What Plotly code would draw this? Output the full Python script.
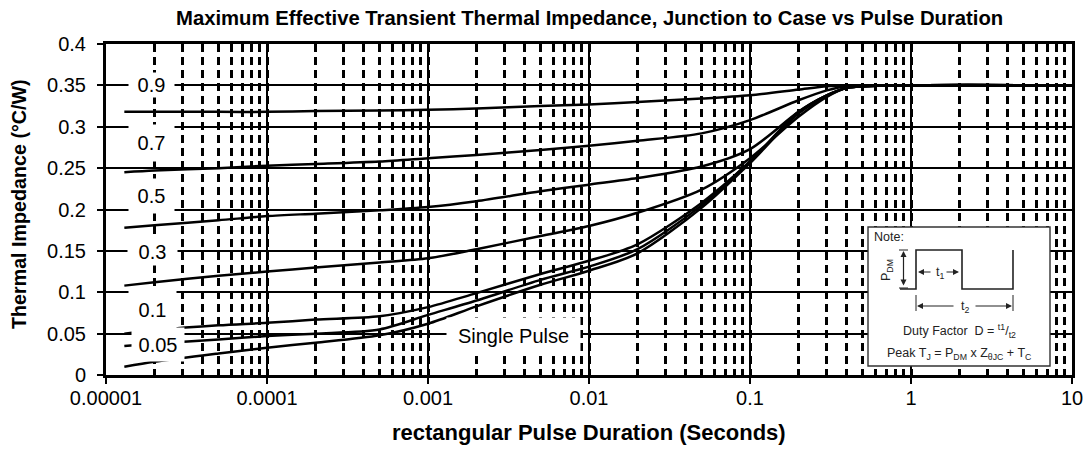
import plotly.graph_objects as go

# ---------------- data ----------------
duration = [1.3e-5, 2e-5, 5e-5, 1e-4, 2e-4, 5e-4, 1e-3, 2e-3, 5e-3, 1e-2,
            2e-2, 5e-2, 1e-1, 2e-1, 3e-1, 4e-1, 1, 10]
z_d09 = [0.318, 0.318, 0.318, 0.318, 0.319, 0.3195, 0.3205, 0.322, 0.325, 0.327,
         0.330, 0.334, 0.338, 0.345, 0.349, 0.350, 0.350, 0.350]
z_d07 = [0.245, 0.247, 0.250, 0.253, 0.255, 0.258, 0.262, 0.266, 0.272, 0.277,
         0.283, 0.292, 0.308, 0.332, 0.344, 0.349, 0.350, 0.350]
z_d05 = [0.178, 0.181, 0.187, 0.192, 0.195, 0.199, 0.203, 0.210, 0.222, 0.230,
         0.238, 0.252, 0.273, 0.318, 0.338, 0.347, 0.350, 0.350]
z_d03 = [0.108, 0.112, 0.120, 0.125, 0.130, 0.136, 0.141, 0.152, 0.168, 0.180,
         0.196, 0.224, 0.262, 0.312, 0.336, 0.347, 0.350, 0.350]
z_d01 = [0.050, 0.054, 0.060, 0.063, 0.067, 0.071, 0.082, 0.099, 0.122, 0.138,
         0.158, 0.208, 0.258, 0.318, 0.338, 0.347, 0.350, 0.350]
z_d005 = [0.035, 0.038, 0.043, 0.047, 0.050, 0.055, 0.0726, 0.090, 0.115, 0.131,
          0.152, 0.205, 0.258, 0.317, 0.338, 0.347, 0.350, 0.350]
z_single = [0.010, 0.016, 0.026, 0.033, 0.039, 0.048, 0.062, 0.083, 0.109, 0.126,
            0.147, 0.202, 0.256, 0.316, 0.337, 0.347, 0.350, 0.350]

series = [z_d09, z_d07, z_d05, z_d03, z_d01, z_d005, z_single]

x_tickvals = [1e-5, 1e-4, 1e-3, 1e-2, 1e-1, 1, 10]
x_ticktext = ["0.00001", "0.0001", "0.001", "0.01", "0.1", "1", "10"]
y_tickvals = [0, 0.05, 0.1, 0.15, 0.2, 0.25, 0.3, 0.35, 0.4]
y_ticktext = ["0", "0.05", "0.1", "0.15", "0.2", "0.25", "0.3", "0.35", "0.4"]

# curve labels: (text, log10 x, y, box width, box height)
curve_labels = [
    ("0.9", -4.72, 0.350, 45, 24),
    ("0.7", -4.72, 0.2806, 45, 36),
    ("0.5", -4.72, 0.2165, 45, 34),
    ("0.3", -4.71, 0.1488, 49, 26),
    ("0.1", -4.71, 0.0786, 47, 37),
    ("0.05", -4.68, 0.0365, 52, 33),
    ("Single Pulse", -2.472, 0.0472, 133, 35),
]

FONT = "Arial, Liberation Sans, sans-serif"
W, H = 1086, 449
L, R, T, B = 106, 14, 44, 74
PW, PH = W - L - R, H - T - B


def px(X):
    return (X - L) / PW


def py(Y):
    return (H - B - Y) / PH


fig = go.Figure()
for vals in series:
    fig.add_trace(go.Scatter(
        x=duration, y=vals, mode="lines",
        line=dict(color="black", width=2.5, shape="spline", smoothing=0.8),
        showlegend=False, hoverinfo="skip"))

annotations = []
for txt, lx, ly, bw, bh in curve_labels:
    annotations.append(dict(
        x=lx, y=ly, xref="x", yref="y", text=txt, showarrow=False,
        font=dict(family=FONT, size=20, color="black"),
        bgcolor="white", width=bw, height=bh, borderpad=0, align="center"))

# ---- titles ----
annotations += [
    dict(x=px(589), y=py(18), xref="paper", yref="paper", xanchor="center", yanchor="middle",
         text="<b>Maximum Effective Transient Thermal Impedance, Junction to Case vs Pulse Duration</b>",
         showarrow=False, font=dict(family=FONT, size=20.3, color="black")),
    dict(x=px(589), y=py(432), xref="paper", yref="paper", xanchor="center", yanchor="middle",
         text="<b>rectangular Pulse Duration (Seconds)</b>",
         showarrow=False, font=dict(family=FONT, size=22, color="black")),
    dict(x=px(19), y=py(204), xref="paper", yref="paper", xanchor="center", yanchor="middle",
         text="<b>Thermal Impedance (°C/W)</b>", textangle=-90,
         showarrow=False, font=dict(family=FONT, size=19.7, color="black")),
]

# ---- note box ----
shapes = []
shapes.append(dict(type="rect", xref="paper", yref="paper",
                   x0=px(868), x1=px(1050), y0=py(366), y1=py(227),
                   line=dict(color="#333333", width=1.4), fillcolor="white", layer="above"))
wave = [(900, 289), (916, 289), (916, 250), (962, 250), (962, 289), (1013, 289), (1013, 250)]
path = "M " + " L ".join(f"{px(a):.5f},{py(b):.5f}" for a, b in wave)
shapes.append(dict(type="path", xref="paper", yref="paper", path=path,
                   line=dict(color="#222222", width=1.6), layer="above"))
for yy in (250, 288):
    shapes.append(dict(type="line", xref="paper", yref="paper",
                       x0=px(899), x1=px(908), y0=py(yy), y1=py(yy),
                       line=dict(color="#222222", width=1), layer="above"))
for xx in (916, 1013):
    shapes.append(dict(type="line", xref="paper", yref="paper",
                       x0=px(xx), x1=px(xx), y0=py(295), y1=py(311),
                       line=dict(color="#222222", width=1), layer="above"))

note_font = dict(family=FONT, size=12.5, color="#222222")
arrow_common = dict(xref="paper", yref="paper", axref="pixel", ayref="pixel", text="",
                    showarrow=True, arrowhead=2, arrowsize=1, arrowwidth=1.2,
                    arrowcolor="#222222")
annotations += [
    dict(x=px(872), y=py(237), xref="paper", yref="paper", text="Note:",
         showarrow=False, xanchor="left", yanchor="middle", font=note_font),
    dict(x=px(887), y=py(270), xref="paper", yref="paper", text="P<sub>DM</sub>",
         showarrow=False, textangle=-90, xanchor="center", yanchor="middle", font=note_font),
    dict(x=px(903.5), y=py(251), ax=0, ay=36, arrowside="end+start", **arrow_common),
    dict(x=px(918), y=py(272), ax=14, ay=0, **arrow_common),
    dict(x=px(959), y=py(272), ax=-14, ay=0, **arrow_common),
    dict(x=px(940), y=py(273), xref="paper", yref="paper", text="t<sub>1</sub>",
         showarrow=False, xanchor="center", yanchor="middle", font=note_font),
    dict(x=px(917), y=py(306), ax=38, ay=0, **arrow_common),
    dict(x=px(1012), y=py(306), ax=-38, ay=0, **arrow_common),
    dict(x=px(965), y=py(307), xref="paper", yref="paper", text="t<sub>2</sub>",
         showarrow=False, xanchor="center", yanchor="middle", font=note_font),
    dict(x=px(959), y=py(331), xref="paper", yref="paper",
         text="Duty Factor  D = <sup>t1</sup>/<sub>t2</sub>",
         showarrow=False, xanchor="center", yanchor="middle", font=note_font),
    dict(x=px(959), y=py(354), xref="paper", yref="paper",
         text="Peak T<sub>J</sub> = P<sub>DM</sub> x Z<sub>θJC</sub> + T<sub>C</sub>",
         showarrow=False, xanchor="center", yanchor="middle", font=note_font),
]

fig.update_layout(
    width=W, height=H,
    margin=dict(l=L, r=R, t=T, b=B, autoexpand=False),
    paper_bgcolor="white", plot_bgcolor="white",
    font=dict(family=FONT, color="black"),
    annotations=annotations,
    shapes=shapes,
)

fig.update_xaxes(
    type="log", range=[-5, 1],
    tickvals=x_tickvals, ticktext=x_ticktext,
    tickfont=dict(family=FONT, size=20, color="black"),
    ticks="outside", ticklen=6, tickwidth=2, tickcolor="black",
    ticklabelstandoff=-3,
    showgrid=True, gridcolor="black", gridwidth=2,
    minor=dict(dtick="D1", showgrid=True, gridcolor="black", gridwidth=3,
               griddash="8px,5px", ticks=""),
    showline=True, linecolor="black", linewidth=3, mirror=True,
    zeroline=False,
)
fig.update_yaxes(
    range=[0, 0.4],
    tickvals=y_tickvals, ticktext=y_ticktext,
    tickfont=dict(family=FONT, size=20, color="black"),
    ticks="outside", ticklen=6, tickwidth=2, tickcolor="black",
    ticklabelstandoff=7,
    showgrid=True, gridcolor="black", gridwidth=2,
    showline=True, linecolor="black", linewidth=3, mirror=True,
    zeroline=False,
)

fig.write_html("out.html", config={"displayModeBar": False},
               post_script="document.body.style.margin='0px';")
